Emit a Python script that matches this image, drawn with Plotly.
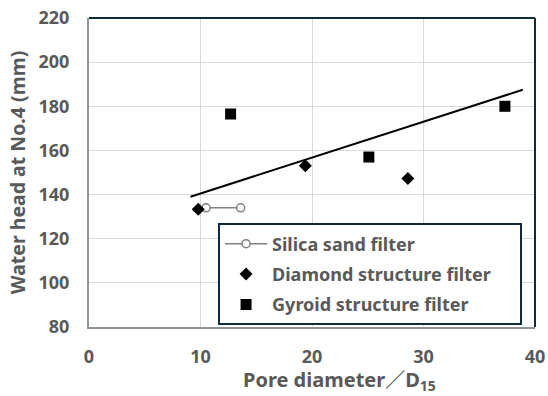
import plotly.graph_objects as go

# Pore diameter / D15 and water head at No.4 (mm)
silica_x = [10.5, 13.6]
silica_y = [134.0, 134.0]

diamond_x = [9.8, 19.4, 28.6]
diamond_y = [133.4, 153.1, 147.3]

gyroid_x = [12.7, 25.1, 37.3]
gyroid_y = [176.5, 157.0, 180.0]

trend_x = [9.1, 38.9]
trend_y = [139.0, 187.5]

x_ticks = [0, 10, 20, 30, 40]
y_ticks = [80, 100, 120, 140, 160, 180, 200, 220]

FONT = "Noto Sans, Noto Sans CJK JP"
GRAY_TXT = "#595959"
DARK = "#0f2b3b"
PAD = "\u00a0" * 5  # widens the legend box on the right

fig = go.Figure()

fig.add_trace(go.Scatter(
    x=trend_x, y=trend_y, mode="lines",
    line=dict(color="black", width=2), showlegend=False, hoverinfo="skip"))

fig.add_trace(go.Scatter(
    x=silica_x, y=silica_y, mode="lines+markers", name="Silica sand filter",
    legendgroup="a",
    line=dict(color="#808080", width=1.5),
    marker=dict(symbol="circle", size=8, color="white",
                line=dict(color="#808080", width=1.5))))

fig.add_trace(go.Scatter(
    x=diamond_x, y=diamond_y, mode="markers",
    name="Diamond structure filter" + PAD,
    legendgroup="b",
    marker=dict(symbol="diamond", size=10, color="black")))

fig.add_trace(go.Scatter(
    x=gyroid_x, y=gyroid_y, mode="markers", name="Gyroid structure filter",
    legendgroup="c",
    marker=dict(symbol="square", size=11, color="black")))

# dark frame on top and right sides of the plotting area
fig.add_shape(type="line", xref="paper", yref="paper", x0=0, x1=1, y0=1, y1=1,
              line=dict(color=DARK, width=2))
fig.add_shape(type="line", xref="paper", yref="paper", x0=1, x1=1, y0=0, y1=1,
              line=dict(color=DARK, width=2))

# x-axis title
fig.add_annotation(
    text="Pore diameter／D<sub>15</sub>", xref="paper", yref="paper",
    x=0.562, y=-0.172, xanchor="center", yanchor="middle", showarrow=False,
    font=dict(family=FONT, size=20, color=GRAY_TXT, weight="bold"))

fig.update_layout(
    width=548, height=396,
    margin=dict(l=89, r=13, t=18, b=69),
    paper_bgcolor="white", plot_bgcolor="white",
    font=dict(family=FONT, color=GRAY_TXT),
    legend=dict(
        x=0.971, y=0.005, xanchor="right", yanchor="bottom",
        bgcolor="white", bordercolor=DARK, borderwidth=2,
        font=dict(family=FONT, size=18, color=GRAY_TXT, weight="bold"),
        tracegroupgap=4, itemwidth=42),
    xaxis=dict(
        range=[0, 40], tickvals=x_ticks, showgrid=True, gridcolor="#d9d9d9",
        gridwidth=1, zeroline=False, showline=True, linecolor="#8c9699",
        linewidth=2, ticks="", automargin=False, ticklabelstandoff=12,
        tickfont=dict(family=FONT, size=18, color=GRAY_TXT, weight="bold")),
    yaxis=dict(
        range=[80, 220], tickvals=y_ticks, showgrid=True, gridcolor="#d9d9d9",
        gridwidth=1, zeroline=False, showline=True, linecolor="#8c9699",
        linewidth=2, ticks="", automargin=False, ticklabelstandoff=14,
        tickfont=dict(family=FONT, size=18, color=GRAY_TXT, weight="bold"),
        title=dict(text="Water head at No.4 (mm)", standoff=8,
                   font=dict(family=FONT, size=19.5, color=GRAY_TXT, weight="bold"))),
)

fig.write_html("out.html")
